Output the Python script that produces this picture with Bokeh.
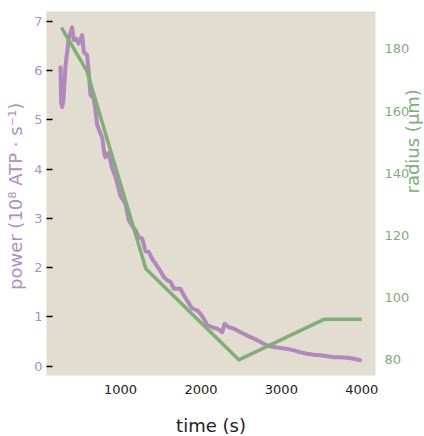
import math
from bokeh.plotting import figure
from bokeh.models import Range1d, LinearAxis, FixedTicker
from bokeh.embed import file_html
from bokeh.resources import INLINE

# power trace (10^8 ATP/s) vs time (s)
time_power = [254, 262, 275, 290, 316, 357, 398, 419, 450, 480, 523, 543, 585, 605, 627,
              668, 689, 710, 751, 772, 800, 813, 850, 870, 897, 938, 1000, 1062, 1103,
              1145, 1187, 1228, 1270, 1311, 1352, 1394, 1435, 1477, 1539, 1580, 1622,
              1663, 1746, 1787, 1829, 1891, 1953, 1995, 2037, 2078, 2140, 2203, 2241,
              2265, 2294, 2348, 2410, 2493, 2577, 2658, 2741, 2825, 2907, 2990, 3074,
              3156, 3239, 3322, 3405, 3488, 3571, 3654, 3737, 3820, 3902, 3977]
power = [6.07, 5.35, 5.26, 5.4, 6.1, 6.65, 6.88, 6.62, 6.65, 6.55, 6.72, 6.38, 6.31, 5.97, 5.5,
         5.43, 5.19, 4.9, 4.72, 4.65, 4.3, 4.24, 4.33, 4.2, 4.01, 3.84, 3.45, 3.30, 2.96,
         2.85, 2.76, 2.62, 2.59, 2.33, 2.32, 2.18, 2.08, 1.98, 1.81, 1.74, 1.71,
         1.57, 1.57, 1.44, 1.33, 1.17, 1.13, 1.06, 0.96, 0.83, 0.79, 0.76, 0.72,
         0.69, 0.86, 0.79, 0.76, 0.69, 0.62, 0.56, 0.49, 0.42, 0.39, 0.37, 0.35,
         0.32, 0.28, 0.25, 0.23, 0.22, 0.20, 0.18, 0.18, 0.17, 0.15, 0.12]

# radius (um) vs time (s)
time_radius = [266, 580, 1315, 2471, 3529, 4000]
radius = [186.8, 173.0, 109.3, 80.0, 93.0, 93.0]

x_ticks = [1000, 2000, 3000, 4000]
power_ticks = [0, 1, 2, 3, 4, 5, 6, 7]
radius_ticks = [80, 100, 120, 140, 160, 180]

PURPLE = "#b088bb"
PURPLE_TXT = "#b28ebf"
GREEN = "#7fae79"
GREEN_TXT = "#80ad7b"
BG = "#e2dcd1"
FONT = "DejaVu Sans"

p = figure(frame_width=329, frame_height=364, output_backend="svg", toolbar_location=None,
           x_range=Range1d(80, 4170), y_range=Range1d(-0.19, 7.2),
           min_border_left=46, min_border_top=11, min_border_right=0, min_border_bottom=0)
p.extra_y_ranges = {"radius": Range1d(74.95, 192)}

p.background_fill_color = BG
p.border_fill_color = "white"
p.outline_line_color = None
p.xgrid.visible = False
p.ygrid.visible = False

p.line(time_power, power, line_color=PURPLE, line_width=4, line_join="round", line_cap="round")
p.line(time_radius, radius, line_color=GREEN, line_width=3.5, line_join="round",
       y_range_name="radius")

# bottom axis
xa = p.xaxis[0]
xa.ticker = FixedTicker(ticks=x_ticks)
xa.axis_line_color = None
xa.major_tick_line_color = None
xa.minor_tick_line_color = None
xa.major_label_standoff = 3
xa.major_label_text_font = FONT
xa.major_label_text_font_size = "13px"
xa.major_label_text_color = "#222222"
xa.axis_label = "time (s)"
xa.axis_label_text_font = FONT
xa.axis_label_text_font_style = "normal"
xa.axis_label_text_font_size = "18px"
xa.axis_label_text_color = "#222222"
xa.axis_label_standoff = 18

# left axis
ya = p.yaxis[0]
ya.ticker = FixedTicker(ticks=power_ticks)
ya.axis_line_color = None
ya.major_tick_line_color = "black"
ya.major_tick_line_width = 1.5
ya.major_tick_in = 6
ya.major_tick_out = 0
ya.minor_tick_line_color = None
ya.major_label_standoff = 4
ya.major_label_text_font = FONT
ya.major_label_text_font_size = "13px"
ya.major_label_text_color = PURPLE_TXT
ya.axis_label = "power  (10\u2078 ATP \u00b7 s\u207b\u00b9)"
ya.axis_label_text_font = FONT
ya.axis_label_text_font_style = "normal"
ya.axis_label_text_font_size = "18px"
ya.axis_label_text_color = PURPLE_TXT
ya.axis_label_standoff = 5

# right axis
ra = LinearAxis(y_range_name="radius", ticker=FixedTicker(ticks=radius_ticks))
ra.axis_line_color = None
ra.major_tick_line_color = None
ra.minor_tick_line_color = None
ra.major_label_standoff = 3
ra.major_label_text_font = FONT
ra.major_label_text_font_size = "13px"
ra.major_label_text_color = GREEN_TXT
ra.axis_label = "radius (\u00b5m)"
ra.axis_label_text_font = FONT
ra.axis_label_text_font_style = "normal"
ra.axis_label_text_font_size = "18px"
ra.axis_label_text_color = GREEN_TXT
ra.axis_label_standoff = 0
ra.axis_label_orientation = math.pi / 2
p.add_layout(ra, "right")

open("out.html", "w").write(file_html(p, INLINE))
